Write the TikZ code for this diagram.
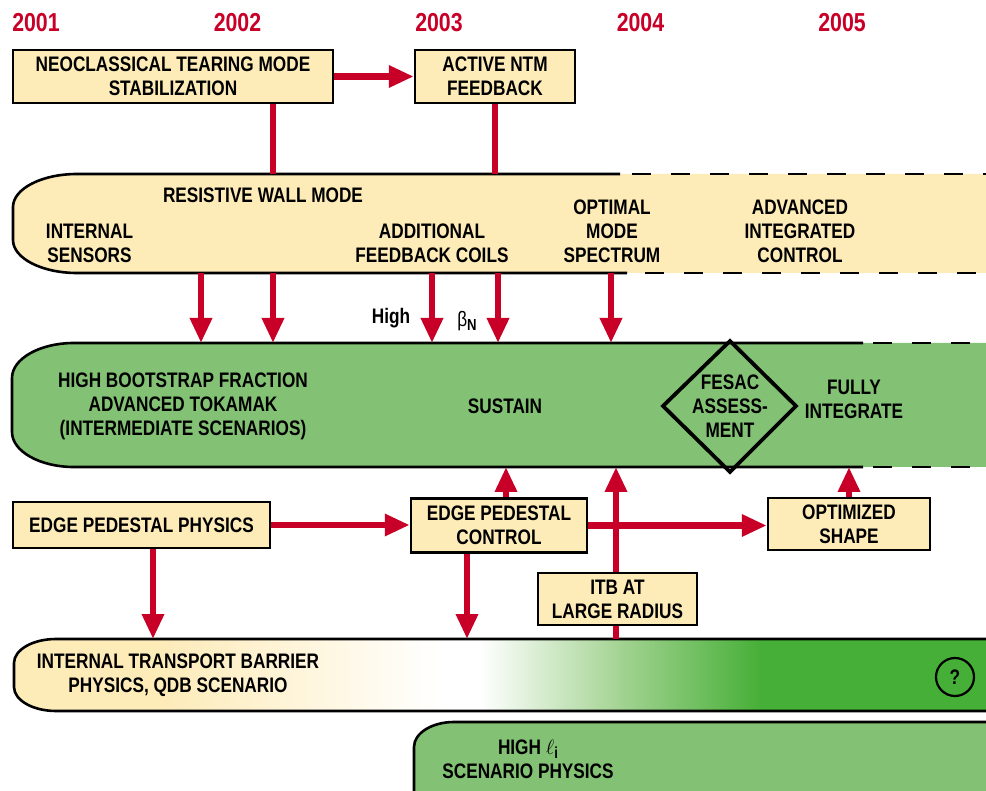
\documentclass[tikz,border=0pt]{standalone}
\usepackage{fontspec}
\setmainfont{Liberation Sans}[FakeStretch=0.82]
\usetikzlibrary{arrows.meta}
\definecolor{nred}{HTML}{C80028}
\definecolor{byel}{HTML}{FDEBB8}
\definecolor{bgrn}{HTML}{83C274}
\definecolor{dgrn}{HTML}{46AF37}
\definecolor{lgrn}{HTML}{A3D392}
\pgfdeclarelayer{bandl}
\pgfdeclarelayer{connl}
\pgfsetlayers{bandl,connl,main}
\begin{document}
\begin{tikzpicture}[x=1pt,y=-1pt,
  lbl/.style={font=\fontsize{21}{24}\selectfont\bfseries,align=center,inner sep=0pt},
  box/.style={lbl,draw=black,line width=2.5pt,fill=byel},
  year/.style={font=\fontsize{26}{28}\selectfont\bfseries,text=nred,inner sep=0pt},
  conn/.style={draw=nred,line width=6.5pt},
  arr/.style={conn,-{Triangle[width=21pt,length=25pt]}},
  bandline/.style={line width=2.6pt},
  dashline/.style={line width=2.6pt,dash pattern=on 19pt off 20pt},
  anchorbox/.style={inner sep=0pt,outer sep=0pt,draw=none}
]
\useasboundingbox (0,0) rectangle (986,791);

% ---------- band anchors ----------
\node[anchorbox,minimum width=982pt,minimum height=99pt] (rwm) at (504,223.5) {};
\node[anchorbox,minimum width=983pt,minimum height=124pt] (grn) at (503.5,405) {};
\node[anchorbox,minimum width=981pt,minimum height=72pt] (itb) at (504.5,675) {};
\node[anchorbox,minimum width=581pt,minimum height=78pt] (hli) at (704.5,761) {};

% ---------- columns ----------
\coordinate (k153) at (153,0);
\coordinate (k201) at (201,0);
\coordinate (k273) at (273,0);
\coordinate (k432) at (432,0);
\coordinate (k467) at (467,0);
\coordinate (k498) at (498,0);
\coordinate (k506) at (506,0);
\coordinate (k611) at (611,0);
\coordinate (k616) at (616,0);

% ---------- bands ----------
\begin{pgfonlayer}{bandl}
% resistive wall mode band
\fill[byel] (995,174) -- (77,174) .. controls (41.7,174) and (13,188.8) .. (13,207) -- (13,240) .. controls (13,258.2) and (41.7,273) .. (77,273) -- (995,273) -- cycle;
\draw[bandline] (620,174) -- (77,174) .. controls (41.7,174) and (13,188.8) .. (13,207) -- (13,240) .. controls (13,258.2) and (41.7,273) .. (77,273) -- (627,273);
\draw[dashline] (632,174) -- (995,174);
\draw[dashline] (645,273) -- (995,273);
% green band
\fill[bgrn] (995,343) -- (74,343) .. controls (39.8,343) and (12,358.7) .. (12,378) -- (12,432) .. controls (12,451.3) and (39.8,467) .. (74,467) -- (995,467) -- cycle;
\draw[bandline] (863,343) -- (74,343) .. controls (39.8,343) and (12,358.7) .. (12,378) -- (12,432) .. controls (12,451.3) and (39.8,467) .. (74,467) -- (863,467);
\draw[dashline] (873,343) -- (995,343);
\draw[dashline] (873,467) -- (995,467);
% ITB band (gradient)
\begin{scope}
\clip (995,639) -- (56,639) .. controls (32.8,639) and (14,649.8) .. (14,663) -- (14,687) .. controls (14,700.2) and (32.8,711) .. (56,711) -- (995,711) -- cycle;
\fill[byel] (0,630) rectangle (161,720);
\shade[left color=byel,right color=white] (160,630) rectangle (441,720);
\fill[white] (440,630) rectangle (481,720);
\shade[left color=white,right color=lgrn] (480,630) rectangle (621,720);
\shade[left color=lgrn,right color=dgrn] (620,630) rectangle (761,720);
\fill[dgrn] (760,630) rectangle (1000,720);
\end{scope}
\draw[bandline] (995,639) -- (56,639) .. controls (32.8,639) and (14,649.8) .. (14,663) -- (14,687) .. controls (14,700.2) and (32.8,711) .. (56,711) -- (995,711);
% high li band
\fill[bgrn] (995,722) -- (454,722) .. controls (431.9,722) and (414,733.2) .. (414,747) -- (414,800) -- (995,800) -- cycle;
\draw[bandline] (995,722) -- (454,722) .. controls (431.9,722) and (414,733.2) .. (414,747) -- (414,800);
\end{pgfonlayer}

% ---------- years ----------
\node[year] (y1) at (36,22.5) {2001};
\node[year] (y2) at (237.5,22.5) {2002};
\node[year] (y3) at (439,22.5) {2003};
\node[year] (y4) at (640.5,22.5) {2004};
\node[year] (y5) at (842,22.5) {2005};

% ---------- boxes ----------
\node[box,minimum width=320pt,minimum height=53pt] (ntm) at (173,76.5) {NEOCLASSICAL TEARING MODE\\STABILIZATION};
\node[box,minimum width=160pt,minimum height=53pt] (act) at (495,76.5) {ACTIVE NTM\\FEEDBACK};
\node[box,minimum width=257pt,minimum height=46pt] (epp) at (141.5,525) {EDGE PEDESTAL PHYSICS};
\node[box,minimum width=176pt,minimum height=54pt] (epc) at (499,525.5) {EDGE PEDESTAL\\CONTROL};
\node[box,minimum width=162pt,minimum height=52pt] (opt) at (849,524) {OPTIMIZED\\SHAPE};
\node[box,minimum width=159pt,minimum height=52pt] (itbx) at (617.5,599) {ITB AT\\LARGE RADIUS};

% ---------- band texts ----------
\node[lbl] (rwmt) at (263,195) {RESISTIVE WALL MODE};
\node[lbl] (ins) at (89.5,243) {INTERNAL\\SENSORS};
\node[lbl] (afc) at (432,243) {ADDITIONAL\\FEEDBACK COILS};
\node[lbl] (oms) at (612,231) {OPTIMAL\\MODE\\SPECTRUM};
\node[lbl] (aic) at (800,231) {ADVANCED\\INTEGRATED\\CONTROL};
\node[lbl] (high) at (391,318) {High};
\node[lbl] (beta) at (467,321) {{\mdseries β}\raisebox{-0.35ex}{\fontsize{16}{16}\selectfont N}};
\node[lbl] (hbf) at (183,406.5) {HIGH BOOTSTRAP FRACTION\\ADVANCED TOKAMAK\\(INTERMEDIATE SCENARIOS)};
\node[lbl] (sus) at (505,406) {SUSTAIN};
\node[lbl] (fes) at (730,406) {FESAC\\ASSESS-\\MENT};
\draw[line width=3.8pt,line join=miter] (730,341) -- (796,406) -- (730,472) -- (663,406) -- cycle;
\node[lbl] (fi) at (854,399.5) {FULLY\\INTEGRATE};
\node[lbl] (itbt) at (178,675.5) {INTERNAL TRANSPORT BARRIER\\PHYSICS, QDB SCENARIO};
\node[lbl,draw,circle,line width=2.2pt,minimum size=38pt] (q) at (955,677) {?};
\node[lbl] (hlit) at (528,759) {HIGH $\ell$\raisebox{-0.35ex}{\fontsize{16}{16}\selectfont i}\\SCENARIO PHYSICS};

% ---------- connectors ----------
\begin{pgfonlayer}{connl}
\draw[arr] (ntm.east) -- (act.west);
\draw[conn] (ntm.south -| k273) -- (k273 |- rwm.north);
\draw[conn] (act.south) -- (act.south |- rwm.north);
\draw[arr] (k201 |- rwm.south) -- (k201 |- grn.north);
\draw[arr] (k273 |- rwm.south) -- (k273 |- grn.north);
\draw[arr] (k432 |- rwm.south) -- (k432 |- grn.north);
\draw[arr] (k498 |- rwm.south) -- (k498 |- grn.north);
\draw[arr] (k611 |- rwm.south) -- (k611 |- grn.north);
\draw[arr] (epp.east) -- (epp.east -| epc.west);
\draw[arr] (epc.north -| k506) -- (k506 |- grn.south);
\draw[arr] (epc.south -| k467) -- (k467 |- itb.north);
\draw[arr] (epp.south -| k153) -- (k153 |- itb.north);
\draw[arr] (epc.east) -- (epc.east -| opt.west);
\draw[arr] (opt.north) -- (opt.north |- grn.south);
\draw[arr] (k616 |- itb.north) -- (k616 |- grn.south);
\end{pgfonlayer}
\end{tikzpicture}
\end{document}
